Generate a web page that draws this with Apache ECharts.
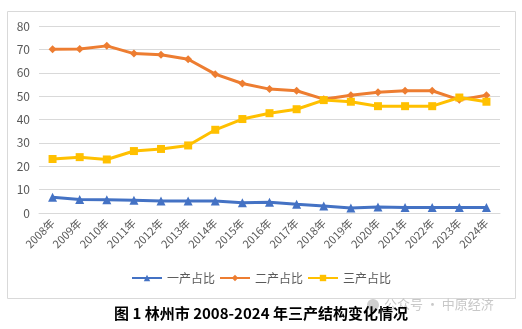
<!DOCTYPE html>
<html><head><meta charset="utf-8">
<script src="https://cdn.jsdelivr.net/npm/echarts@6/dist/echarts.min.js"></script>
<style>html,body{margin:0;padding:0;background:#fff}#c{width:522px;height:329px}</style>
</head><body><div id="c"></div>
<script>
const years = ['2008年','2009年','2010年','2011年','2012年','2013年','2014年','2015年','2016年','2017年','2018年','2019年','2020年','2021年','2022年','2023年','2024年'];
const primary = [6.7,5.8,5.7,5.5,5.1,5.1,5.1,4.4,4.6,3.7,3.0,2.1,2.6,2.4,2.3,2.3,2.3];
const secondary = [70.1,70.2,71.5,68.2,67.7,65.8,59.4,55.4,53.0,52.3,48.7,50.4,51.7,52.3,52.3,48.4,50.4];
const tertiary = [23.1,23.9,22.9,26.5,27.4,28.9,35.6,40.2,42.7,44.4,48.3,47.6,45.7,45.7,45.7,49.4,47.6];
const seriesNames = ['一产占比','二产占比','三产占比'];
const yTicks = [0,10,20,30,40,50,60,70,80];
const caption = '图 1 林州市 2008-2024 年三产结构变化情况';
const watermark = '公众号 · 中原经济';

const chart = echarts.init(document.getElementById('c'), null, {renderer:'canvas'});
const font = '"Microsoft YaHei","Noto Sans CJK SC",sans-serif';
chart.setOption({
  animation:false,
  textStyle:{fontFamily:font},
  grid:{left:39,right:22,top:26,bottom:116,containLabel:false},
  xAxis:{type:'category',data:years,boundaryGap:true,
    axisLine:{show:true,lineStyle:{color:'#D9D9D9'}},axisTick:{show:false},
    axisLabel:{rotate:45,color:'#595959',fontSize:11,margin:8,interval:0}},
  yAxis:{type:'value',min:yTicks[0],max:yTicks[yTicks.length-1],interval:10,
    axisLine:{show:false},axisTick:{show:false},
    splitLine:{lineStyle:{color:'#D9D9D9'}},
    axisLabel:{color:'#595959',fontSize:12,margin:9}},
  legend:{bottom:40,left:'center',itemWidth:30,itemHeight:8,itemGap:4,
    textStyle:{color:'#595959',fontSize:12},
    data:seriesNames},
  series:[
    {name:seriesNames[0],type:'line',data:primary,symbol:'triangle',symbolSize:9,
      lineStyle:{width:3,color:'#4472C4'},itemStyle:{color:'#4472C4'}},
    {name:seriesNames[1],type:'line',data:secondary,symbol:'diamond',symbolSize:8,
      lineStyle:{width:3,color:'#ED7D31'},itemStyle:{color:'#ED7D31'}},
    {name:seriesNames[2],type:'line',data:tertiary,symbol:'rect',symbolSize:8,
      lineStyle:{width:3,color:'#FFC000'},itemStyle:{color:'#FFC000'}}
  ],
  graphic:[
    {type:'rect',shape:{x:7.5,y:11.5,width:508,height:287},style:{fill:'none',stroke:'#D9D9D9',lineWidth:1},z:-1},
    {type:'circle',shape:{cx:373,cy:305,r:6},style:{fill:'#cfcfcf'},z:1},
    {type:'text',left:384,top:298,style:{text:watermark,fill:'#c8c8c8',font:'13px '+font},z:1},
    {type:'text',left:'center',top:306,style:{text:caption,fill:'#000',font:'bold 15px "Noto Sans CJK SC",serif'},z:2}
  ]
});
</script></body></html>
